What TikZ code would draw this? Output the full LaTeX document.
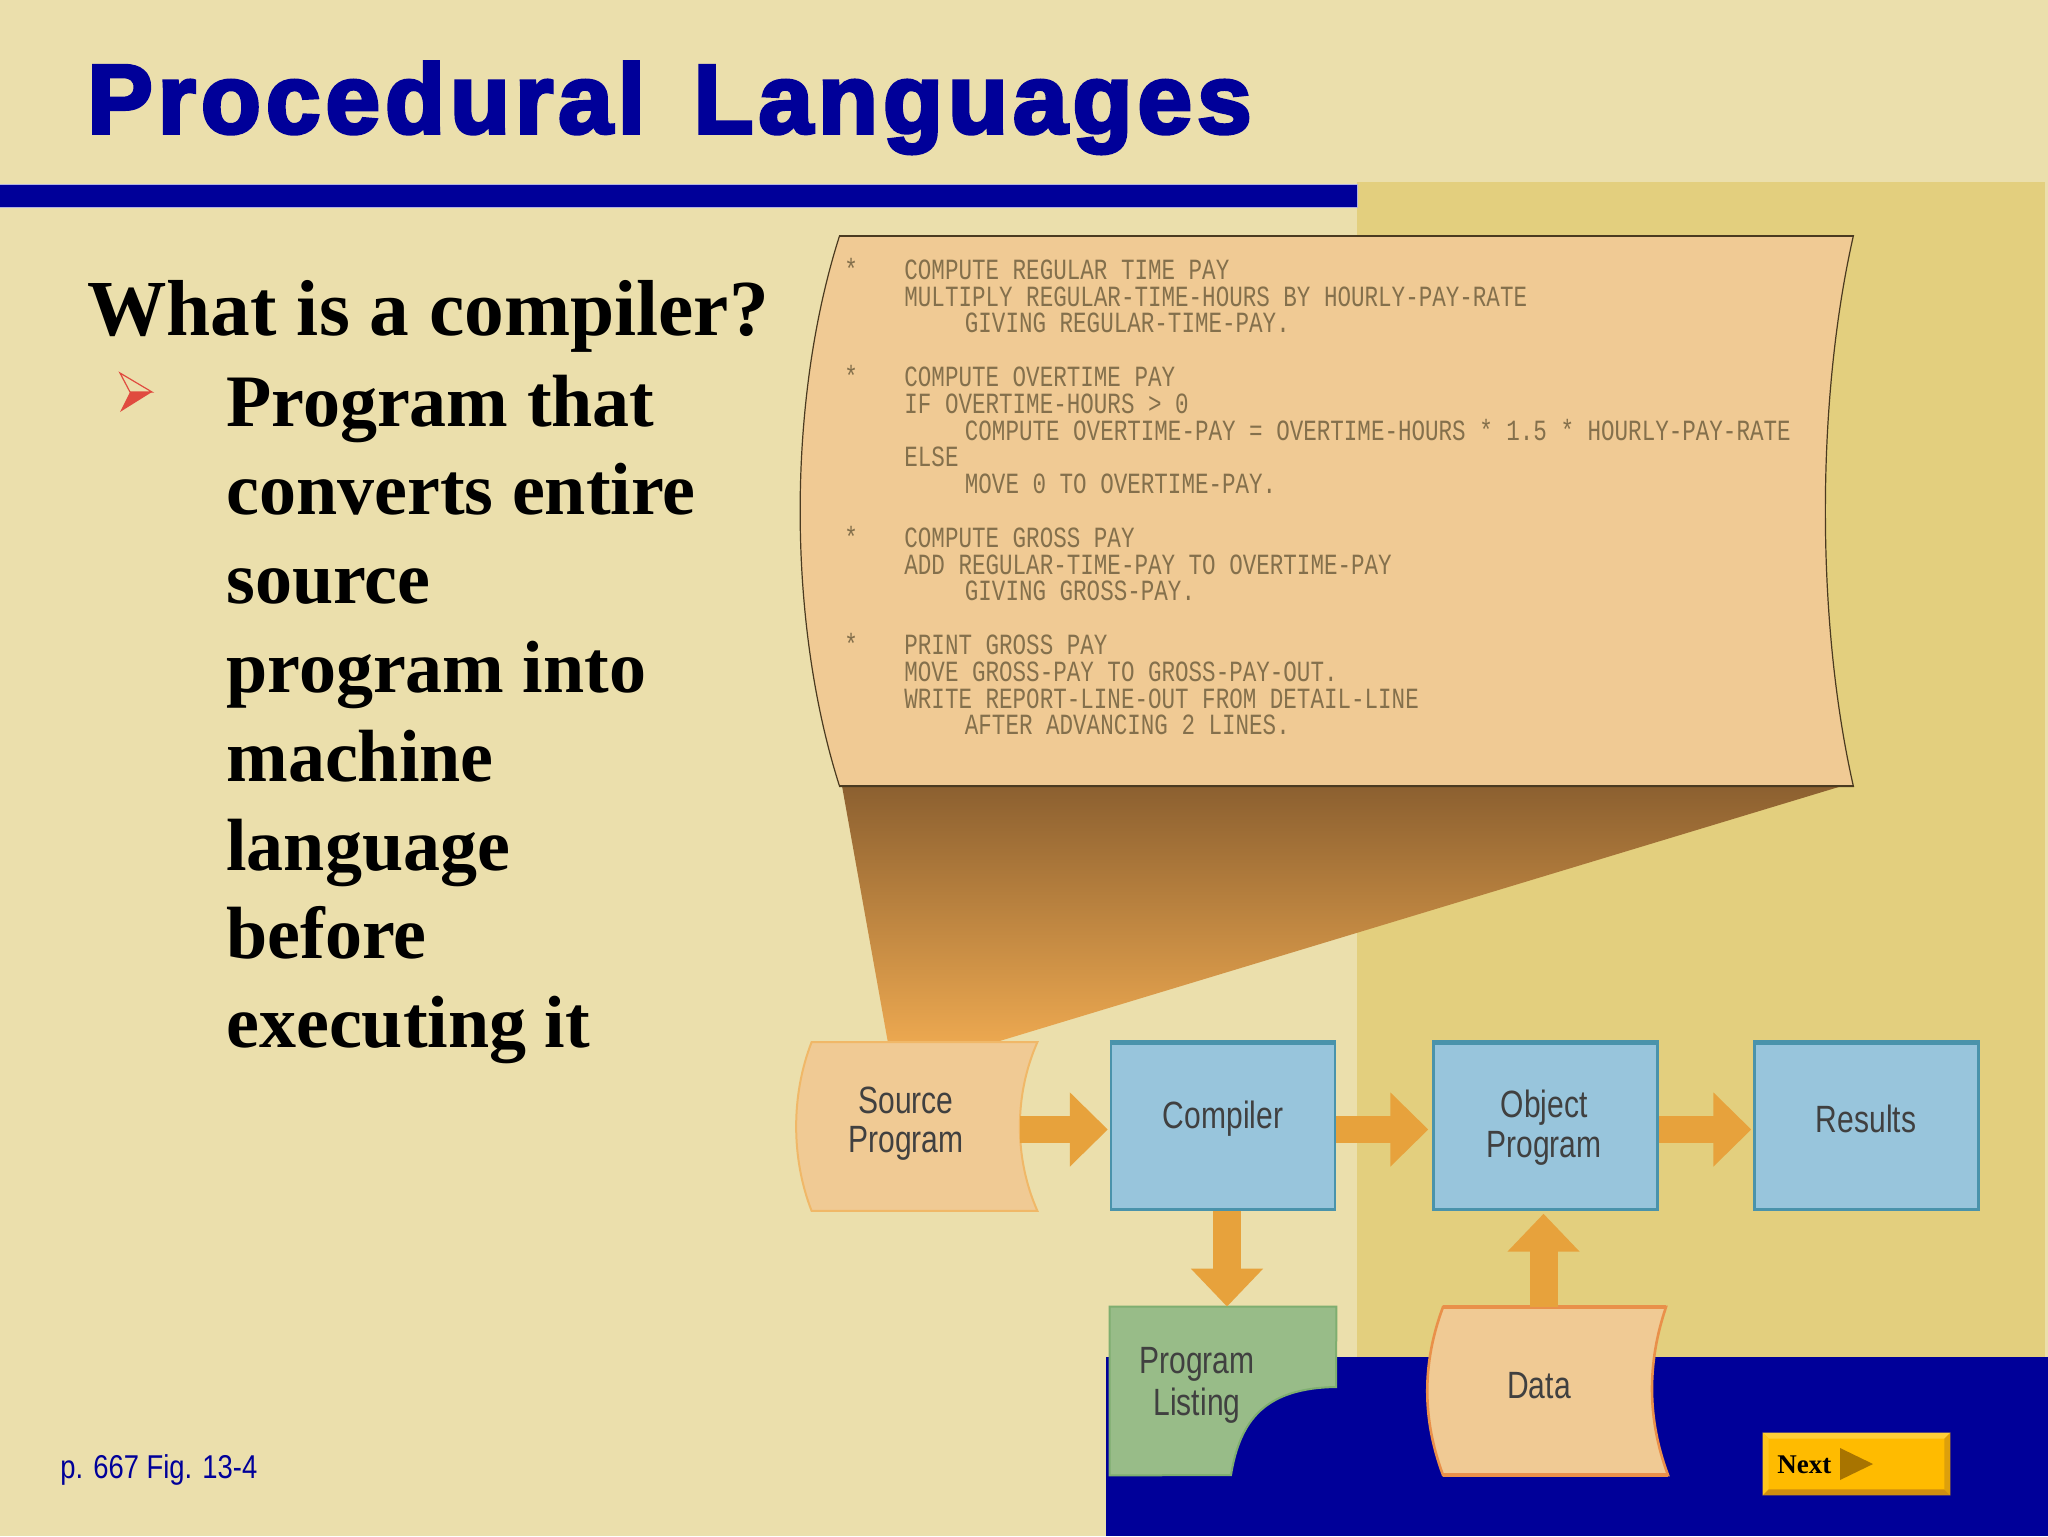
\documentclass[tikz,border=0pt]{standalone}
\usepackage{fontspec}
\usetikzlibrary{arrows.meta,calc}
\setmainfont{Liberation Serif}
\newfontfamily\titlefont[FakeBold=3.6,LetterSpace=5.2]{Liberation Sans Bold}
\newfontfamily\labelfont[FakeStretch=0.79]{Liberation Sans}
\newfontfamily\pagefont[FakeStretch=0.83]{Liberation Sans}
\newfontfamily\codefont[FakeStretch=0.77]{Liberation Mono}
\definecolor{bgc}{HTML}{EBDFAC}
\definecolor{goldc}{HTML}{E3CF7E}
\definecolor{navyc}{HTML}{000099}
\definecolor{sheetc}{HTML}{F0CA94}
\definecolor{boxc}{HTML}{98C5DC}
\definecolor{boxe}{HTML}{4A93AB}
\definecolor{greenc}{HTML}{98BC88}
\definecolor{greene}{HTML}{7FAE70}
\definecolor{flowc}{HTML}{E7A23C}
\definecolor{nextc}{HTML}{FFBB00}
\definecolor{codec}{HTML}{84704C}
\definecolor{redc}{HTML}{E04B3F}
\definecolor{funtop}{HTML}{8C6030}
\definecolor{funbot}{HTML}{ECA850}
\definecolor{sheete}{HTML}{4A3A20}
\definecolor{srce}{HTML}{F0B868}
\definecolor{datae}{HTML}{E9904A}
\definecolor{bevtop}{HTML}{FFCE38}
\definecolor{bevleft}{HTML}{FFC51C}
\definecolor{bevbot}{HTML}{CF8E10}
\definecolor{bevright}{HTML}{DDA00C}
\definecolor{nexttri}{HTML}{A87400}
\tikzset{
  x=0.5pt,y=-0.5pt,
  codeline/.style={anchor=base west,inner sep=0pt,text=codec,font=\codefont\fontsize{14.65}{15}\selectfont},
  bodyline/.style={anchor=base west,inner sep=0pt,font=\bfseries\fontsize{37}{40}\selectfont},
  lbl/.style={anchor=base,inner sep=0pt,text=black!75,font=\labelfont\fontsize{19}{20}\selectfont},
  procbox/.style={draw=boxe,fill=boxc,line width=1.2pt,minimum width=112pt,minimum height=83pt,inner sep=0pt},
  holder/.style={inner sep=0pt,minimum width=#1,minimum height=84pt},
  flow/.style={draw=flowc,line width=13.5pt,-{Triangle[length=19pt,width=36pt,fill=flowc]}},
  flowv/.style={draw=flowc,line width=14pt,-{Triangle[length=19pt,width=35pt,fill=flowc]}},
  docshape/.style={fill=sheetc,draw=#1,line width=1pt},
}
\begin{document}
\begin{tikzpicture}
\useasboundingbox (0,0) rectangle (2048,1536);
% backgrounds
\fill[bgc] (0,0) rectangle (2048,1536);
\fill[goldc] (1357,182) rectangle (2045,1357);
\fill[navyc] (1106,1357) rectangle (2048,1536);
\filldraw[fill=navyc,draw=navyc!30!white,line width=0.5pt] (-2,184) rectangle (1357,207);
% title and bullets
\node[anchor=base west,inner sep=0pt,text=navyc,font=\titlefont\fontsize{49}{50}\selectfont] (title) at (87,133) {Procedural\hspace{8pt} Languages};
\node[bodyline,font=\bfseries\fontsize{39.7}{42}\selectfont] (q) at (87,335) {What is a compiler?};
\coordinate (bt) at (120,373);
\coordinate (bm) at (130,392);
\coordinate (bp) at (152,392);
\coordinate (bb) at (120,412);
\draw[redc,line width=0.6pt,line join=miter] (bt) -- (bp) -- (bm) -- cycle;
\fill[redc] (bm) -- (bp) -- (bb) -- cycle;
\node[bodyline] (b1) at (226,426) {Program that};
\node[bodyline] (b2) at (226,514.8) {converts entire};
\node[bodyline] (b3) at (226,603.6) {source};
\node[bodyline] (b4) at (226,692.4) {program into};
\node[bodyline] (b5) at (226,781.2) {machine};
\node[bodyline] (b6) at (226,870) {language};
\node[bodyline] (b7) at (226,958.8) {before};
\node[bodyline] (b8) at (226,1047.6) {executing it};
\node[anchor=base west,inner sep=0pt,text=navyc,font=\pagefont\fontsize{16.5}{18}\selectfont] (page) at (60,1478) {p. 667 Fig. 13-4};
% funnel and code sheet
\shade[top color=funtop,bottom color=funbot]
  (842,786) -- (1842,786) -- (993,1043) -- (888,1043) -- cycle;
\node[inner sep=0pt,minimum width=506.5pt,minimum height=275pt] (sheet) at (1346.5,511) {};
\path[fill=sheetc,draw=sheete,line width=0.6pt]
  (sheet.north west) -- (sheet.north east)
  .. controls (1816,400) and (1816,622) .. (sheet.south east)
  -- (sheet.south west)
  .. controls (787,622) and (787,400) .. (sheet.north west) -- cycle;
\draw[sheete,line width=1pt] (sheet.north west) -- (sheet.north east);
\draw[sheete,line width=1pt] (sheet.south west) -- (sheet.south east);
\node[codeline] (s1) at (844,279.3) {*};
\node[codeline] (c1) at (904,279.3) {COMPUTE REGULAR TIME PAY};
\node[codeline] (c2) at (904,306.1) {MULTIPLY REGULAR-TIME-HOURS BY HOURLY-PAY-RATE};
\node[codeline] (c3) at (964.5,332.9) {GIVING REGULAR-TIME-PAY.};
\node[codeline] (s2) at (844,386.5) {*};
\node[codeline] (c4) at (904,386.5) {COMPUTE OVERTIME PAY};
\node[codeline] (c5) at (904,413.3) {IF OVERTIME-HOURS > 0};
\node[codeline] (c6) at (964.5,440.1) {COMPUTE OVERTIME-PAY = OVERTIME-HOURS * 1.5 * HOURLY-PAY-RATE};
\node[codeline] (c7) at (904,466.9) {ELSE};
\node[codeline] (c8) at (964.5,493.7) {MOVE 0 TO OVERTIME-PAY.};
\node[codeline] (s3) at (844,547.3) {*};
\node[codeline] (c9) at (904,547.3) {COMPUTE GROSS PAY};
\node[codeline] (c10) at (904,574.1) {ADD REGULAR-TIME-PAY TO OVERTIME-PAY};
\node[codeline] (c11) at (964.5,600.9) {GIVING GROSS-PAY.};
\node[codeline] (s4) at (844,654.5) {*};
\node[codeline] (c12) at (904,654.5) {PRINT GROSS PAY};
\node[codeline] (c13) at (904,681.3) {MOVE GROSS-PAY TO GROSS-PAY-OUT.};
\node[codeline] (c14) at (904,708.1) {WRITE REPORT-LINE-OUT FROM DETAIL-LINE};
\node[codeline] (c15) at (964.5,734.9) {AFTER ADVANCING 2 LINES.};
% flowchart nodes
\node[holder=112.5pt] (src) at (924.5,1126.5) {};
\path[docshape=srce] (src.north west) -- (src.north east)
  .. controls (1014,1095) and (1014,1158) .. (src.south east)
  -- (src.south west)
  .. controls (791,1158) and (791,1095) .. (src.north west) -- cycle;
\node[lbl] (srcA) at (906,1113) {Source};
\node[lbl] (srcB) at (906,1152) {Program};
\node[procbox] (comp) at (1223,1126.5) {};
\draw[boxe,line width=2pt] (comp.north west) -- (comp.north east);
\node[lbl] (compA) at (1223,1128) {Compiler};
\node[procbox] (obj) at (1545.5,1126.5) {};
\draw[boxe,line width=2pt] (obj.north west) -- (obj.north east);
\node[lbl] (objA) at (1544,1117) {Object};
\node[lbl] (objB) at (1544,1157) {Program};
\node[procbox] (res) at (1866.5,1126.5) {};
\draw[boxe,line width=2pt] (res.north west) -- (res.north east);
\node[lbl] (resA) at (1866,1132) {Results};
\node[holder=113pt] (list) at (1223,1391) {};
\path[fill=greenc,draw=greene,line width=1pt] (list.north west) -- (list.north east)
  -- (1336,1387) .. controls (1265,1388) and (1240,1420) .. (1231,1475)
  -- (list.south west) -- cycle;
\node[lbl] (listA) at (1197,1373) {Program};
\node[lbl] (listB) at (1197,1415) {Listing};
\node[holder=112.5pt] (data) at (1555.5,1391) {};
\path[docshape=datae,line width=1.3pt] (1443,1307) -- (1666,1307)
  .. controls (1647,1363) and (1647,1419) .. (1668,1475)
  -- (1443,1475)
  .. controls (1422,1419) and (1422,1363) .. (1443,1307) -- cycle;
\draw[datae,line width=2pt] (1443,1307) -- (1666,1307);
\draw[datae,line width=2pt] (1443,1475) -- (1668,1475);
\node[lbl] (dataA) at (1539,1398) {Data};
% connectors
\draw[flow] ($(src.east)+(-17,3)$) -- ($(comp.west)+(-2,3)$);
\draw[flow] ($(comp.east)+(0,3)$) -- ($(obj.west)+(-4,3)$);
\draw[flow] ($(obj.east)+(0,3)$) -- ($(res.west)+(-2,3)$);
\draw[flowv] ($(comp.south)+(4,0)$) -- ($(list.north)+(4,0)$);
\draw[flowv] ($(data.north -| obj.south)+(-2,0)$) -- ($(obj.south)+(-2,3)$);
% next button
\node[inner sep=0pt,minimum width=93.5pt,minimum height=31pt] (next) at (1856.5,1464) {};
\fill[nextc] (next.south west) rectangle (next.north east);
\fill[bevtop] (next.north west) -- (next.north east) -- ($(next.north east)+(-6,6)$) -- ($(next.north west)+(6,6)$) -- cycle;
\fill[bevleft] (next.north west) -- (next.south west) -- ($(next.south west)+(6,-6)$) -- ($(next.north west)+(6,6)$) -- cycle;
\fill[bevbot] (next.south west) -- (next.south east) -- ($(next.south east)+(-6,-6)$) -- ($(next.south west)+(6,-6)$) -- cycle;
\fill[bevright] (next.north east) -- (next.south east) -- ($(next.south east)+(-6,-6)$) -- ($(next.north east)+(-6,6)$) -- cycle;
\coordinate (nt) at (1840,1448);
\coordinate (nb) at (1840,1480);
\coordinate (np) at (1873,1464);
\fill[nexttri] (nt) -- (np) -- (nb) -- cycle;
\node[anchor=base west,inner sep=0pt,font=\bfseries\fontsize{13.5}{15}\selectfont] (nextA) at (1777,1473) {Next};
\end{tikzpicture}
\end{document}
